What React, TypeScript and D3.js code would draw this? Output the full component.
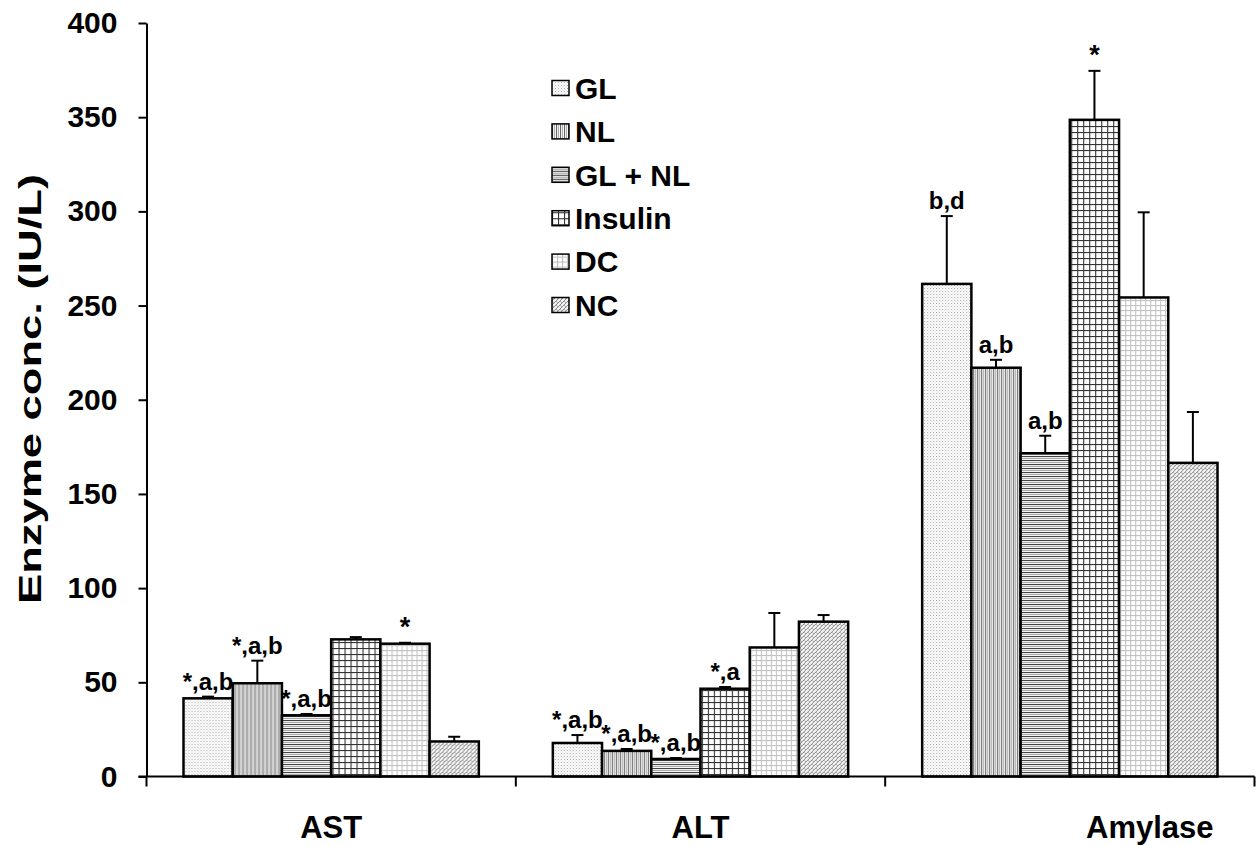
import React, { useEffect, useRef } from 'react';
import * as d3 from 'd3';

// enzyme groups and treatment series
const categories = ['AST', 'ALT', 'Amylase'];
const series = ['GL', 'NL', 'GL + NL', 'Insulin', 'DC', 'NC'];

// means (IU/L), one row per category, in series order
const astMeans = [41.5, 49.5, 32.5, 72.8, 70.5, 18.6];
const altMeans = [17.8, 13.6, 9.3, 46.6, 68.5, 82.2];
const amylaseMeans = [261.5, 217, 171.6, 348.6, 254.3, 166.5];

// error bar (SE) sizes
const astErr = [0.9, 12, 0.7, 1.2, 0.5, 2.5];
const altErr = [4.2, 1.0, 0.5, 0.9, 18.3, 3.5];
const amylaseErr = [36, 4.2, 9.3, 26, 45.2, 27];

const yTicks = [0, 50, 100, 150, 200, 250, 300, 350, 400];

// significance labels over bars
const annotations = [
  { cat: 'AST', s: 'GL', text: '*,a,b' },
  { cat: 'AST', s: 'NL', text: '*,a,b' },
  { cat: 'AST', s: 'GL + NL', text: '*,a,b' },
  { cat: 'AST', s: 'DC', text: '*' },
  { cat: 'ALT', s: 'GL', text: '*,a,b' },
  { cat: 'ALT', s: 'NL', text: '*,a,b' },
  { cat: 'ALT', s: 'GL + NL', text: '*,a,b' },
  { cat: 'ALT', s: 'Insulin', text: '*,a' },
  { cat: 'Amylase', s: 'GL', text: 'b,d' },
  { cat: 'Amylase', s: 'NL', text: 'a,b' },
  { cat: 'Amylase', s: 'GL + NL', text: 'a,b' },
  { cat: 'Amylase', s: 'Insulin', text: '*' },
];

const FONT = '"Liberation Sans", Arial, sans-serif';

function App() {
  const svgRef = useRef<SVGSVGElement>(null);

  useEffect(() => {
    const width = 1259;
    const height = 846;
    const svg = d3.select(svgRef.current).attr('width', width).attr('height', height);
    svg.selectAll('*').remove();

    const means: Record<string, number[]> = { AST: astMeans, ALT: altMeans, Amylase: amylaseMeans };
    const errs: Record<string, number[]> = { AST: astErr, ALT: altErr, Amylase: amylaseErr };

    const left = 146.5, right = 1254.5, top = 23, bottom = 776.5;

    const x0 = d3.scaleBand().domain(categories).range([left, right]);
    const inset = 37;
    const x1 = d3.scaleBand().domain(series).range([inset, x0.bandwidth() - inset]);
    const y = d3.scaleLinear().domain([0, 400]).range([bottom, top]);

    // fill patterns
    const defs = svg.append('defs');
    const pat = (id: string, w: number, h: number) =>
      defs.append('pattern').attr('id', id).attr('patternUnits', 'userSpaceOnUse')
        .attr('width', w).attr('height', h);

    const pDots = pat('p-gl', 3, 3);
    pDots.append('rect').attr('width', 3).attr('height', 3).attr('fill', '#fff');
    pDots.append('rect').attr('x', 0).attr('y', 0).attr('width', 1).attr('height', 1).attr('fill', '#a8a8a8');
    pDots.append('rect').attr('x', 1.5).attr('y', 1.5).attr('width', 1).attr('height', 1).attr('fill', '#c4c4c4');

    const pVert = pat('p-nl', 4, 4);
    pVert.append('rect').attr('width', 4).attr('height', 4).attr('fill', '#fff');
    pVert.append('rect').attr('x', 0).attr('width', 1.1).attr('height', 4).attr('fill', '#666');
    pVert.append('rect').attr('x', 2).attr('width', 1.1).attr('height', 4).attr('fill', '#b0b0b0');

    const pHoriz = pat('p-glnl', 4, 4);
    pHoriz.append('rect').attr('width', 4).attr('height', 4).attr('fill', '#fff');
    pHoriz.append('rect').attr('y', 0).attr('width', 4).attr('height', 1.1).attr('fill', '#444');
    pHoriz.append('rect').attr('y', 2).attr('width', 4).attr('height', 1.1).attr('fill', '#aaa');

    const pGrid = pat('p-ins', 6, 6);
    pGrid.append('rect').attr('width', 6).attr('height', 6).attr('fill', '#fff');
    pGrid.append('rect').attr('width', 6).attr('height', 1.1).attr('fill', '#333');
    pGrid.append('rect').attr('width', 1.1).attr('height', 6).attr('fill', '#333');

    const pLight = pat('p-dc', 5, 5);
    pLight.append('rect').attr('width', 5).attr('height', 5).attr('fill', '#fff');
    pLight.append('rect').attr('width', 5).attr('height', 1.1).attr('fill', '#c2c2c2');
    pLight.append('rect').attr('width', 1.1).attr('height', 5).attr('fill', '#c2c2c2');

    const pWeave = pat('p-nc', 4, 4);
    pWeave.append('rect').attr('width', 4).attr('height', 4).attr('fill', '#f2f2f2');
    pWeave.append('path').attr('d', 'M-1,1 L1,-1 M0,4 L4,0 M3,5 L5,3').attr('stroke', '#8a8a8a').attr('stroke-width', 1);
    pWeave.append('path').attr('d', 'M0,0 L2,2').attr('stroke', '#aaa').attr('stroke-width', 0.9);

    const fills: Record<string, string> = {
      'GL': 'url(#p-gl)', 'NL': 'url(#p-nl)', 'GL + NL': 'url(#p-glnl)',
      'Insulin': 'url(#p-ins)', 'DC': 'url(#p-dc)', 'NC': 'url(#p-nc)',
    };

    // y axis
    const yAxis = svg.append('g')
      .attr('transform', `translate(${left},0)`)
      .call(d3.axisLeft(y).tickValues(yTicks).tickSize(8).tickSizeOuter(0).tickPadding(21));
    yAxis.select('.domain').attr('stroke', '#000').attr('stroke-width', 2);
    yAxis.selectAll('.tick line').attr('stroke', '#000').attr('stroke-width', 2);
    yAxis.selectAll('.tick text')
      .attr('fill', '#000').attr('font-family', FONT).attr('font-weight', 'bold').attr('font-size', 30);

    svg.append('text')
      .attr('transform', `translate(41,389) rotate(-90)`)
      .attr('text-anchor', 'middle')
      .attr('font-family', FONT).attr('font-weight', 'bold').attr('font-size', 31)
      .attr('textLength', 430).attr('lengthAdjust', 'spacingAndGlyphs')
      .text('Enzyme conc. (IU/L)');

    // bars
    const groups = svg.append('g').selectAll('g')
      .data(categories).enter().append('g')
      .attr('transform', (c) => `translate(${x0(c)},0)`);

    groups.selectAll('rect')
      .data((c) => series.map((s, i) => ({ s, v: means[c][i] })))
      .enter().append('rect')
      .attr('x', (d) => x1(d.s) as number)
      .attr('y', (d) => y(d.v))
      .attr('width', x1.bandwidth())
      .attr('height', (d) => bottom - y(d.v))
      .attr('fill', (d) => fills[d.s])
      .attr('stroke', '#000').attr('stroke-width', 2.5);

    // error bars
    const eb = groups.selectAll('g.err')
      .data((c) => series.map((s, i) => ({ s, v: means[c][i], e: errs[c][i] })))
      .enter().append('g').attr('class', 'err')
      .attr('transform', (d) => `translate(${(x1(d.s) as number) + x1.bandwidth() / 2},0)`);
    eb.append('line')
      .attr('y1', (d) => y(d.v)).attr('y2', (d) => y(d.v + d.e))
      .attr('stroke', '#000').attr('stroke-width', 2);
    eb.append('line')
      .attr('x1', -6).attr('x2', 6)
      .attr('y1', (d) => y(d.v + d.e)).attr('y2', (d) => y(d.v + d.e))
      .attr('stroke', '#000').attr('stroke-width', 2);

    // annotations
    svg.append('g').selectAll('text')
      .data(annotations).enter().append('text')
      .attr('x', (a) => (x0(a.cat) as number) + (x1(a.s) as number) + x1.bandwidth() / 2)
      .attr('y', (a) => {
        const i = series.indexOf(a.s);
        return y(means[a.cat][i] + errs[a.cat][i]) - 7;
      })
      .attr('text-anchor', 'middle')
      .attr('font-family', FONT).attr('font-weight', 'bold')
      .attr('font-size', (a) => (a.text === '*' ? 27 : 24))
      .text((a) => a.text);

    // x axis
    const xa = svg.append('g');
    xa.append('line').attr('x1', left - 8).attr('x2', right).attr('y1', bottom).attr('y2', bottom)
      .attr('stroke', '#000').attr('stroke-width', 2);
    const bounds = categories.map((c) => x0(c) as number).concat([right]);
    xa.selectAll('line.tk').data(bounds).enter().append('line').attr('class', 'tk')
      .attr('x1', (d) => d).attr('x2', (d) => d).attr('y1', bottom).attr('y2', bottom + 10)
      .attr('stroke', '#000').attr('stroke-width', 2);
    xa.selectAll('text').data(categories).enter().append('text')
      .attr('x', (c, i) => (x0(c) as number) + x0.bandwidth() / 2 + (i === categories.length - 1 ? 80 : 0))
      .attr('y', 838)
      .attr('text-anchor', 'middle')
      .attr('font-family', FONT).attr('font-weight', 'bold').attr('font-size', 31)
      .text((c) => c);

    // legend
    const lg = svg.append('g').attr('transform', 'translate(552,88)');
    const item = lg.selectAll('g').data(series).enter().append('g')
      .attr('transform', (_s, i) => `translate(0,${i * 43.4})`);
    item.append('rect').attr('x', 0).attr('y', -7.5).attr('width', 17).attr('height', 15)
      .attr('fill', (s) => fills[s]).attr('stroke', '#000').attr('stroke-width', 1.5);
    item.append('text').attr('x', 23).attr('y', 0).attr('dy', '0.36em')
      .attr('font-family', FONT).attr('font-weight', 'bold').attr('font-size', 30)
      .text((s) => s);
  }, []);

  return (
    <svg ref={svgRef} style={{ position: 'absolute', left: 0, top: 0, display: 'block', background: '#fff' }}></svg>
  );
}

export default App;
